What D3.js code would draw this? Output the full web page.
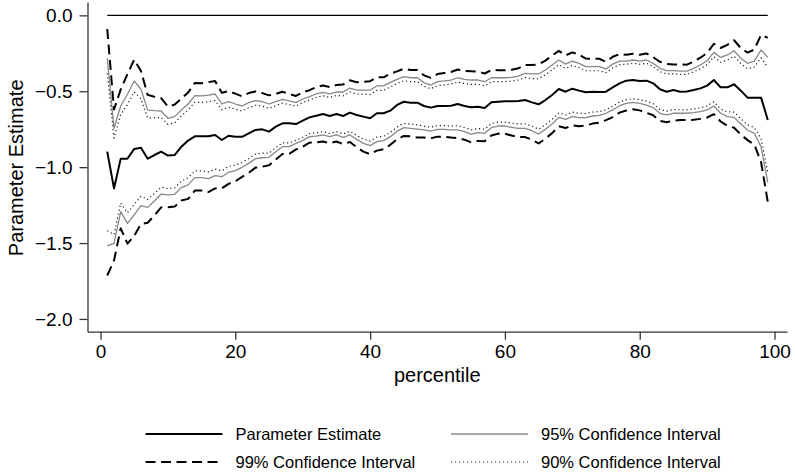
<!DOCTYPE html>
<html>
<head>
<meta charset="utf-8">
<script src="https://cdn.jsdelivr.net/npm/d3@7"></script>
<style>
	body { margin: 0; background: #fff; }
	#graphic { width: 795px; height: 476px; }
	text { font-family: "Liberation Sans", Arial, sans-serif; fill: #000; }
</style>
</head>
<body>
<div id="graphic"></div>
<script>

// percentile regression: estimate with 90/95/99% bands

var percentile = [1,2,3,4,5,6,7,8,9,10,11,12,13,14,15,16,17,18,19,20,
	21,22,23,24,25,26,27,28,29,30,31,32,33,34,35,36,37,38,39,40,
	41,42,43,44,45,46,47,48,49,50,51,52,53,54,55,56,57,58,59,60,
	61,62,63,64,65,66,67,68,69,70,71,72,73,74,75,76,77,78,79,80,
	81,82,83,84,85,86,87,88,89,90,91,92,93,94,95,96,97,98,99];

var estimate = [-0.898,-1.14,-0.944,-0.944,-0.88,-0.872,-0.944,-0.92,-0.898,-0.924,
	-0.92,-0.865,-0.825,-0.797,-0.797,-0.797,-0.788,-0.821,-0.793,-0.80,
	-0.80,-0.777,-0.755,-0.751,-0.766,-0.733,-0.711,-0.711,-0.716,-0.694,
	-0.672,-0.661,-0.65,-0.663,-0.65,-0.663,-0.641,-0.656,-0.667,-0.678,
	-0.645,-0.645,-0.628,-0.59,-0.569,-0.575,-0.575,-0.597,-0.608,-0.597,
	-0.597,-0.595,-0.584,-0.597,-0.606,-0.602,-0.61,-0.573,-0.569,-0.566,
	-0.566,-0.564,-0.558,-0.573,-0.586,-0.558,-0.525,-0.485,-0.503,-0.483,
	-0.496,-0.507,-0.503,-0.505,-0.503,-0.474,-0.448,-0.43,-0.426,-0.432,
	-0.43,-0.448,-0.487,-0.503,-0.492,-0.503,-0.501,-0.492,-0.481,-0.463,
	-0.426,-0.474,-0.474,-0.454,-0.496,-0.542,-0.542,-0.542,-0.689];

var ci95Upper = [-0.283,-0.744,-0.597,-0.52,-0.432,-0.487,-0.624,-0.628,-0.63,-0.678,
	-0.667,-0.624,-0.584,-0.529,-0.531,-0.525,-0.518,-0.584,-0.569,-0.584,
	-0.597,-0.575,-0.562,-0.569,-0.584,-0.569,-0.553,-0.564,-0.575,-0.551,
	-0.536,-0.518,-0.507,-0.518,-0.505,-0.505,-0.479,-0.492,-0.492,-0.492,
	-0.465,-0.465,-0.442,-0.422,-0.404,-0.411,-0.411,-0.443,-0.459,-0.437,
	-0.432,-0.426,-0.411,-0.422,-0.426,-0.426,-0.437,-0.411,-0.411,-0.411,
	-0.408,-0.40,-0.382,-0.386,-0.386,-0.36,-0.327,-0.294,-0.321,-0.301,
	-0.316,-0.338,-0.338,-0.338,-0.353,-0.321,-0.301,-0.301,-0.294,-0.301,
	-0.294,-0.316,-0.349,-0.364,-0.364,-0.367,-0.367,-0.349,-0.327,-0.299,
	-0.244,-0.277,-0.261,-0.233,-0.283,-0.316,-0.301,-0.228,-0.277];

var ci95Lower = [-1.519,-1.502,-1.293,-1.37,-1.315,-1.254,-1.265,-1.223,-1.177,-1.183,
	-1.179,-1.135,-1.117,-1.069,-1.069,-1.076,-1.056,-1.063,-1.034,-1.023,
	-1.001,-0.975,-0.944,-0.938,-0.935,-0.898,-0.865,-0.865,-0.843,-0.825,
	-0.799,-0.795,-0.788,-0.799,-0.788,-0.804,-0.788,-0.817,-0.843,-0.858,
	-0.832,-0.825,-0.799,-0.763,-0.74,-0.744,-0.749,-0.755,-0.762,-0.751,
	-0.751,-0.755,-0.755,-0.766,-0.782,-0.773,-0.777,-0.74,-0.729,-0.729,
	-0.738,-0.744,-0.744,-0.76,-0.782,-0.751,-0.716,-0.672,-0.685,-0.667,
	-0.674,-0.674,-0.663,-0.659,-0.645,-0.623,-0.595,-0.58,-0.573,-0.58,
	-0.591,-0.608,-0.645,-0.656,-0.645,-0.645,-0.645,-0.641,-0.634,-0.623,
	-0.597,-0.645,-0.667,-0.672,-0.716,-0.755,-0.777,-0.865,-1.10];

var ci99Upper = [-0.090,-0.620,-0.488,-0.387,-0.291,-0.366,-0.524,-0.536,-0.546,-0.601,
	-0.588,-0.548,-0.508,-0.445,-0.447,-0.440,-0.433,-0.510,-0.499,-0.516,
	-0.533,-0.512,-0.501,-0.512,-0.527,-0.518,-0.503,-0.518,-0.531,-0.506,
	-0.493,-0.473,-0.462,-0.472,-0.459,-0.455,-0.428,-0.441,-0.437,-0.434,
	-0.408,-0.408,-0.384,-0.369,-0.352,-0.360,-0.360,-0.395,-0.412,-0.387,
	-0.380,-0.373,-0.357,-0.367,-0.369,-0.371,-0.383,-0.360,-0.361,-0.362,
	-0.358,-0.349,-0.327,-0.327,-0.323,-0.298,-0.265,-0.234,-0.264,-0.244,
	-0.259,-0.285,-0.286,-0.286,-0.306,-0.273,-0.255,-0.260,-0.253,-0.260,
	-0.251,-0.275,-0.306,-0.320,-0.324,-0.324,-0.325,-0.304,-0.279,-0.248,
	-0.187,-0.215,-0.194,-0.164,-0.216,-0.245,-0.225,-0.129,-0.148];

var ci99Lower = [-1.714,-1.616,-1.403,-1.504,-1.452,-1.374,-1.366,-1.318,-1.265,-1.264,
	-1.260,-1.220,-1.209,-1.154,-1.154,-1.164,-1.140,-1.139,-1.110,-1.093,
	-1.064,-1.037,-1.003,-0.997,-0.988,-0.950,-0.913,-0.913,-0.883,-0.866,
	-0.839,-0.837,-0.831,-0.842,-0.831,-0.848,-0.834,-0.868,-0.898,-0.915,
	-0.891,-0.882,-0.853,-0.817,-0.794,-0.797,-0.804,-0.805,-0.810,-0.799,
	-0.799,-0.805,-0.809,-0.819,-0.837,-0.827,-0.829,-0.792,-0.779,-0.780,
	-0.792,-0.801,-0.802,-0.819,-0.844,-0.812,-0.776,-0.731,-0.742,-0.725,
	-0.730,-0.726,-0.713,-0.707,-0.690,-0.670,-0.641,-0.627,-0.619,-0.626,
	-0.642,-0.658,-0.695,-0.704,-0.693,-0.690,-0.690,-0.688,-0.682,-0.673,
	-0.651,-0.699,-0.728,-0.740,-0.785,-0.822,-0.851,-0.966,-1.229];

var ci90Upper = [-0.382,-0.808,-0.653,-0.588,-0.504,-0.549,-0.676,-0.675,-0.673,-0.718,
	-0.708,-0.663,-0.623,-0.572,-0.574,-0.569,-0.561,-0.622,-0.605,-0.619,
	-0.630,-0.608,-0.593,-0.598,-0.613,-0.595,-0.578,-0.588,-0.598,-0.574,
	-0.558,-0.541,-0.530,-0.541,-0.528,-0.530,-0.505,-0.518,-0.520,-0.522,
	-0.494,-0.494,-0.472,-0.449,-0.431,-0.437,-0.437,-0.468,-0.483,-0.463,
	-0.459,-0.453,-0.439,-0.450,-0.455,-0.454,-0.465,-0.437,-0.436,-0.436,
	-0.433,-0.426,-0.410,-0.416,-0.418,-0.392,-0.359,-0.325,-0.350,-0.330,
	-0.345,-0.365,-0.365,-0.365,-0.377,-0.346,-0.325,-0.322,-0.315,-0.322,
	-0.316,-0.337,-0.371,-0.386,-0.385,-0.389,-0.389,-0.372,-0.352,-0.325,
	-0.273,-0.309,-0.295,-0.269,-0.317,-0.352,-0.340,-0.279,-0.343];

var ci90Lower = [-1.419,-1.444,-1.237,-1.301,-1.245,-1.192,-1.213,-1.174,-1.132,-1.141,
	-1.137,-1.092,-1.070,-1.025,-1.025,-1.031,-1.013,-1.024,-0.995,-0.987,
	-0.969,-0.943,-0.914,-0.908,-0.908,-0.871,-0.840,-0.840,-0.823,-0.804,
	-0.779,-0.773,-0.766,-0.777,-0.766,-0.781,-0.764,-0.791,-0.815,-0.829,
	-0.802,-0.796,-0.771,-0.735,-0.712,-0.717,-0.721,-0.730,-0.737,-0.726,
	-0.726,-0.729,-0.727,-0.739,-0.754,-0.745,-0.750,-0.713,-0.703,-0.703,
	-0.710,-0.715,-0.714,-0.730,-0.750,-0.720,-0.685,-0.642,-0.656,-0.637,
	-0.645,-0.647,-0.637,-0.634,-0.622,-0.599,-0.571,-0.556,-0.549,-0.556,
	-0.565,-0.582,-0.620,-0.631,-0.620,-0.622,-0.622,-0.617,-0.609,-0.597,
	-0.569,-0.617,-0.636,-0.637,-0.681,-0.721,-0.739,-0.813,-1.034];

var zeroLine = [0, 0];
var xTicks = [0, 20, 40, 60, 80, 100];
var yTicks = [-2, -1.5, -1, -0.5, 0];
var legendLabels = ['Parameter Estimate', '95% Confidence Interval', '99% Confidence Interval', '90% Confidence Interval'];


var GRAPHIC_CONTAINER = d3.select('#graphic');

function drawGraphic(){

	var width = 795, height = 476;

	var svg = GRAPHIC_CONTAINER.append('svg')
		.attr('width', width)
		.attr('height', height)
		.style('background', '#fff');

	var xScale = d3.scaleLinear().domain([-1.93, 101.85]).range([87.5, 787]),
		yScale = d3.scaleLinear().domain([-2.084, 0.088]).range([331.7, 2]);

	// line styles, same order as legendLabels
	var styles = [
		{stroke: '#000', width: 2, dash: null},
		{stroke: '#888', width: 1.3, dash: null},
		{stroke: '#000', width: 2, dash: '10,5.5'},
		{stroke: '#1a1a1a', width: 1.2, dash: '1.2,2.8'}
	];

	var series = [
		{style: 1, values: ci95Upper}, {style: 1, values: ci95Lower},
		{style: 3, values: ci90Upper}, {style: 3, values: ci90Lower},
		{style: 2, values: ci99Upper}, {style: 2, values: ci99Lower},
		{style: 0, values: estimate}
	];

	var line = d3.line()
		.x(function(d){ return xScale(d[0]); })
		.y(function(d){ return yScale(d[1]); });

	// axes
	svg.append('g')
		.attr('transform', 'translate(0,' + yScale.range()[0] + ')')
		.call(d3.axisBottom(xScale).tickValues(xTicks).tickSize(8).tickSizeOuter(0).tickPadding(5));

	svg.append('g')
		.attr('transform', 'translate(' + xScale.range()[0] + ',0)')
		.call(d3.axisLeft(yScale).tickValues(yTicks).tickSize(8).tickSizeOuter(0).tickPadding(7)
			.tickFormat(d3.format('.1f')));

	svg.selectAll('.domain, .tick line')
		.attr('stroke', '#333')
		.attr('stroke-width', 1.3);
	svg.selectAll('.tick text')
		.attr('fill', '#000')
		.style('font-size', '19px')
		.style('font-family', '"Liberation Sans", Arial, sans-serif');

	// zero reference line across the percentile range
	svg.append('path')
		.datum([[percentile[0], zeroLine[0]], [percentile[percentile.length - 1], zeroLine[1]]])
		.attr('d', line)
		.attr('fill', 'none')
		.attr('stroke', '#000')
		.attr('stroke-width', 1.3);

	svg.selectAll('.series')
		.data(series).enter().append('path')
		.attr('class', 'series')
		.attr('d', function(s){
			return line(s.values.map(function(v, i){ return [percentile[i], v]; }));
		})
		.attr('fill', 'none')
		.attr('stroke', function(s){ return styles[s.style].stroke; })
		.attr('stroke-width', function(s){ return styles[s.style].width; })
		.attr('stroke-dasharray', function(s){ return styles[s.style].dash; })
		.attr('stroke-linejoin', 'round');

	// axis titles
	svg.append('text')
		.attr('x', (xScale.range()[0] + xScale.range()[1]) / 2)
		.attr('y', 382)
		.attr('text-anchor', 'middle')
		.style('font-size', '20px')
		.text('percentile');

	svg.append('text')
		.attr('transform', 'translate(23,' + ((yScale.range()[0] + yScale.range()[1]) / 2 + 1) + ') rotate(-90)')
		.attr('text-anchor', 'middle')
		.style('font-size', '20px')
		.text('Parameter Estimate');

	// legend, two columns
	var legend = svg.selectAll('.legend')
		.data(legendLabels).enter().append('g')
		.attr('class', 'legend')
		.attr('transform', function(d, i){
			return 'translate(' + (i % 2 === 0 ? 145.5 : 451) + ',' + (i < 2 ? 434 : 462) + ')';
		});

	legend.append('line')
		.attr('x1', 0).attr('x2', 77)
		.attr('y1', 0).attr('y2', 0)
		.attr('stroke', function(d, i){ return styles[i].stroke; })
		.attr('stroke-width', function(d, i){ return styles[i].width; })
		.attr('stroke-dasharray', function(d, i){ return styles[i].dash; });

	legend.append('text')
		.attr('x', 90)
		.attr('y', 0)
		.attr('dy', '0.35em')
		.style('font-size', '16.5px')
		.text(function(d){ return d; });

}

drawGraphic();

</script>
</body>
</html>
